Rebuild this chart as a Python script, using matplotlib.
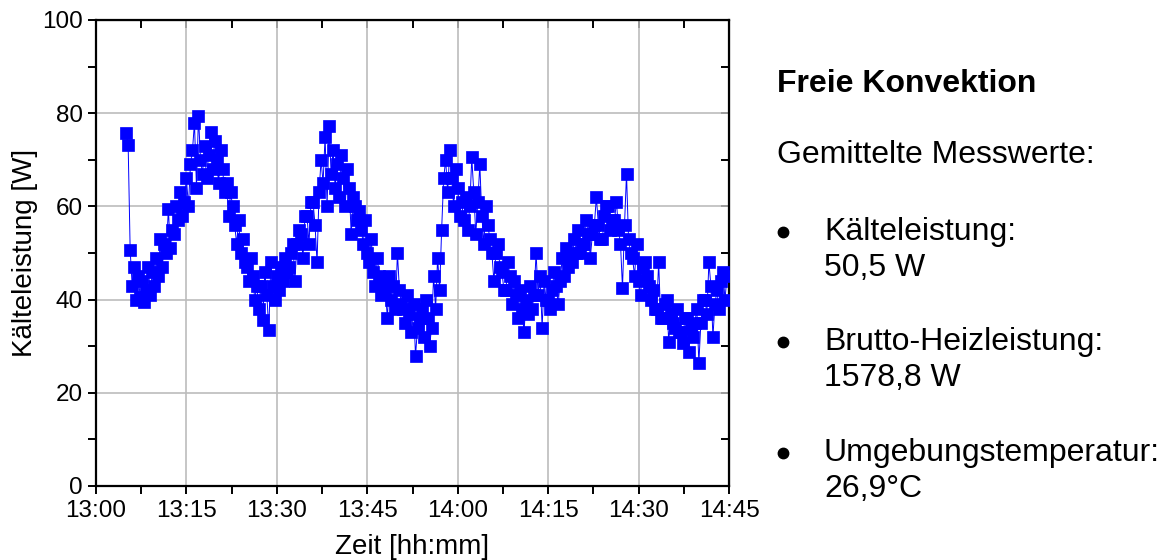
#Kaelteleistung bei freier Konvektion
#Messwerte alle 20 s ab 13:05
import numpy as np
import matplotlib
matplotlib.use("Agg")
import matplotlib.pyplot as plt
from matplotlib.lines import Line2D
from matplotlib.ticker import MultipleLocator, FuncFormatter

plt.rcParams['font.family'] = ['Liberation Sans', 'DejaVu Sans']

start_min = 5.0      # 13:05
intervall_s = 20.0   # Messintervall

# Kaelteleistung [W], je Zeile eine Minute (3 Werte)
kaelte = [
    75.7, 73.2, 50.6,
    43, 47, 40,
    45, 40.5, 44,
    39.5, 42, 47,
    41, 46, 43,
    49, 45, 53,
    47, 52, 50,
    59.5, 51, 55,
    54, 60, 57,
    63, 58, 61,
    66, 60, 69,
    72, 78, 64,
    79.5, 70, 67,
    73, 66, 71,
    76, 68, 74,
    70, 65, 72,
    68, 63, 65,
    58, 63, 60,
    56, 52, 57,
    50, 53, 48,
    47, 44, 49,
    45, 40, 43,
    38, 43, 35.6,
    46, 41, 33.5,
    48, 43, 40,
    45, 42, 47,
    44, 49, 46,
    47, 50, 52,
    44, 52, 55,
    54, 49, 58,
    58, 52, 61,
    61, 56, 48,
    63, 70, 65,
    75, 60, 77.2,
    67, 72, 64,
    69, 62, 71,
    66, 60, 68,
    64, 54, 62,
    60, 57, 59,
    55, 52, 57,
    50, 48, 53,
    46, 43, 49,
    45, 41, 44,
    42, 36, 45,
    40, 43, 38,
    50, 42, 39,
    38, 35, 41,
    37, 33, 39,
    27.9, 34, 36,
    38, 32, 40,
    36, 30, 34,
    45, 38, 49,
    42, 55, 66,
    70, 63, 72,
    66, 60, 68,
    64, 58, 61,
    57, 62, 55,
    60, 70.5, 63,
    54, 61, 69,
    58, 52, 60,
    56, 53, 50,
    44, 50, 52,
    47, 46, 42,
    42, 48, 45,
    39, 44, 41,
    36, 42, 38,
    33, 40, 37,
    43, 38, 41,
    50, 41, 45,
    34, 44, 40,
    40, 38, 42,
    46, 43, 39,
    44, 49, 45,
    51, 47, 49,
    48, 53, 50,
    55, 50, 52,
    52, 57, 54,
    49, 54, 56,
    62, 56, 53,
    53, 58, 60,
    60, 55, 57,
    57, 61, 55,
    52, 42.5, 56,
    67, 53, 50,
    49, 45, 52,
    44, 41, 47,
    48, 45, 43,
    40, 42, 38,
    38, 48, 36,
    36, 39, 40,
    31, 37, 35,
    34, 38, 33,
    33, 30.7, 36,
    36, 28.8, 34,
    32, 35, 38,
    26.4, 35, 40,
    40, 37, 48,
    43, 32, 39,
    42, 38, 44,
    46, 40, 45,
]

titel = "Freie Konvektion"
untertitel = "Gemittelte Messwerte:"
punkte = [("Kälteleistung:", "50,5 W"),
          ("Brutto-Heizleistung:", "1578,8 W"),
          ("Umgebungstemperatur:", "26,9°C")]

zeit = start_min + np.arange(len(kaelte)) * intervall_s / 60.0

fig = plt.figure(figsize=(11.65, 5.6), dpi=100)
ax = fig.add_axes([96/1165, 74/560, 633/1165, 466/560])

ax.plot(zeit, kaelte, color='#0000ff', lw=0.7, marker='s', ms=8.5,
        mfc='#0000ff', mec='#0000ff', mew=0.5, zorder=3)

ax.set_xlim(0, 105)
ax.set_ylim(0, 100)
ax.xaxis.set_major_locator(MultipleLocator(15))
ax.xaxis.set_minor_locator(MultipleLocator(7.5))
ax.yaxis.set_major_locator(MultipleLocator(20))
ax.yaxis.set_minor_locator(MultipleLocator(10))

def hhmm(x, pos):
    m = int(round(x))
    return "%d:%02d" % (13 + m // 60, m % 60)

ax.xaxis.set_major_formatter(FuncFormatter(hhmm))
ax.grid(True, which='major', color='#bcbcbc', lw=1.2, zorder=0)
ax.set_axisbelow(True)

for s in ax.spines.values():
    s.set_linewidth(1.6)
ax.tick_params(which='both', direction='out', length=6, width=1.4,
               labelsize=17.5, top=False, right=False)
ax.tick_params(axis='x', pad=4)
# innen liegende Striche oben und rechts
ax2 = ax.secondary_xaxis('top')
ax2.xaxis.set_major_locator(MultipleLocator(15))
ax2.xaxis.set_minor_locator(MultipleLocator(7.5))
ax2.tick_params(which='both', direction='in', length=6, width=1.4, labeltop=False)
ax3 = ax.secondary_yaxis('right')
ax3.yaxis.set_major_locator(MultipleLocator(20))
ax3.yaxis.set_minor_locator(MultipleLocator(10))
ax3.tick_params(which='both', direction='in', length=6, width=1.4, labelright=False)

ax.set_xlabel("Zeit [hh:mm]", fontsize=20, labelpad=9)
ax.set_ylabel("Kälteleistung [W]", fontsize=20, labelpad=3)

# Textblock rechts
W, H = 1165.0, 560.0
fs = 23
fig.text(777/W, 1 - 92/H, titel, fontsize=fs, fontweight='bold', va='baseline')
fig.text(777/W, 1 - 163/H, untertitel, fontsize=fs, va='baseline')
basis = [240, 350, 461]
for (a, b), y in zip(punkte, basis):
    fig.add_artist(Line2D([783/W], [1 - (y - 8)/H], marker='o', ms=7.5,
                          color='black', transform=fig.transFigure))
    fig.text(824/W, 1 - y/H, a, fontsize=fs, va='baseline')
    fig.text(824/W, 1 - (y + 36)/H, b, fontsize=fs, va='baseline')

fig.savefig("out.png", dpi=100)
